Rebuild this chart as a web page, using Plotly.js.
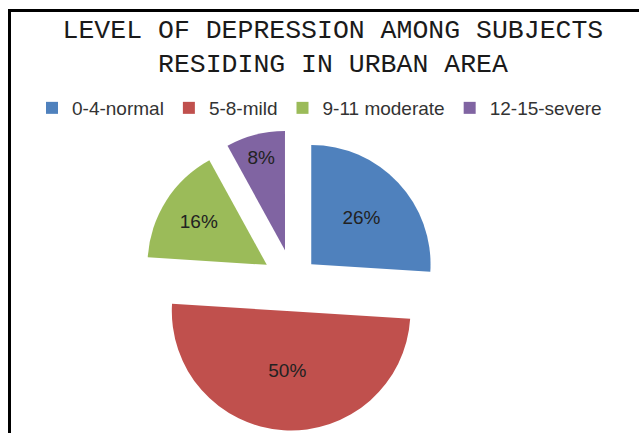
<!DOCTYPE html>
<html>
<head>
<meta charset="utf-8">
<script src="https://cdn.plot.ly/plotly-3.0.1.min.js"></script>
<style>html,body{margin:0;padding:0;background:#fff;overflow:hidden}#chart{width:639px;height:433px}</style>
</head>
<body>
<div id="chart"></div>
<script>
const categories = ["0-4-normal", "5-8-mild", "9-11 moderate", "12-15-severe"];
const percentValues = [26, 50, 16, 8];
const sliceColors = ["#4F81BD", "#C0504D", "#9BBB59", "#8064A2"];
const slicePulls = [0.21, 0.25, 0.26, 0.27];

const trace = {
  type: "pie",
  labels: categories,
  values: percentValues,
  sort: false,
  direction: "clockwise",
  rotation: 0,
  pull: slicePulls,
  marker: {colors: sliceColors, line: {width: 0}},
  textinfo: "percent",
  textposition: "inside",
  insidetextorientation: "horizontal",
  textfont: {family: "Liberation Sans, Arial, sans-serif", size: 19, color: "#222"},
  domain: {x: [0.2214, 0.6956], y: [0, 0.70]},
  hoverinfo: "label+percent"
};

const layout = {
  width: 639,
  height: 433,
  margin: {l: 0, r: 0, t: 0, b: 0},
  paper_bgcolor: "#fff",
  plot_bgcolor: "#fff",
  title: {
    text: "LEVEL OF DEPRESSION AMONG SUBJECTS<br>RESIDING IN URBAN AREA",
    font: {family: "Liberation Mono, Courier New, monospace", size: 26.5, color: "#1a1a1a"},
    x: 0.521, xanchor: "center",
    y: 1 - 38/433, yanchor: "middle"
  },
  showlegend: true,
  legend: {
    orientation: "h",
    x: 0.5, xanchor: "center",
    y: 1 - 108/433, yanchor: "middle",
    font: {family: "Liberation Sans, Arial, sans-serif", size: 19, color: "#333"},
    traceorder: "normal"
  },
  shapes: [{
    type: "rect", xref: "paper", yref: "paper",
    x0: 9.5/639, x1: 1.02, y0: -0.02, y1: 1 - 10.5/433,
    line: {color: "#000", width: 3}, fillcolor: "rgba(0,0,0,0)"
  }]
};

Plotly.newPlot("chart", [trace], layout, {displayModeBar: false, staticPlot: true});
</script>
</body>
</html>
